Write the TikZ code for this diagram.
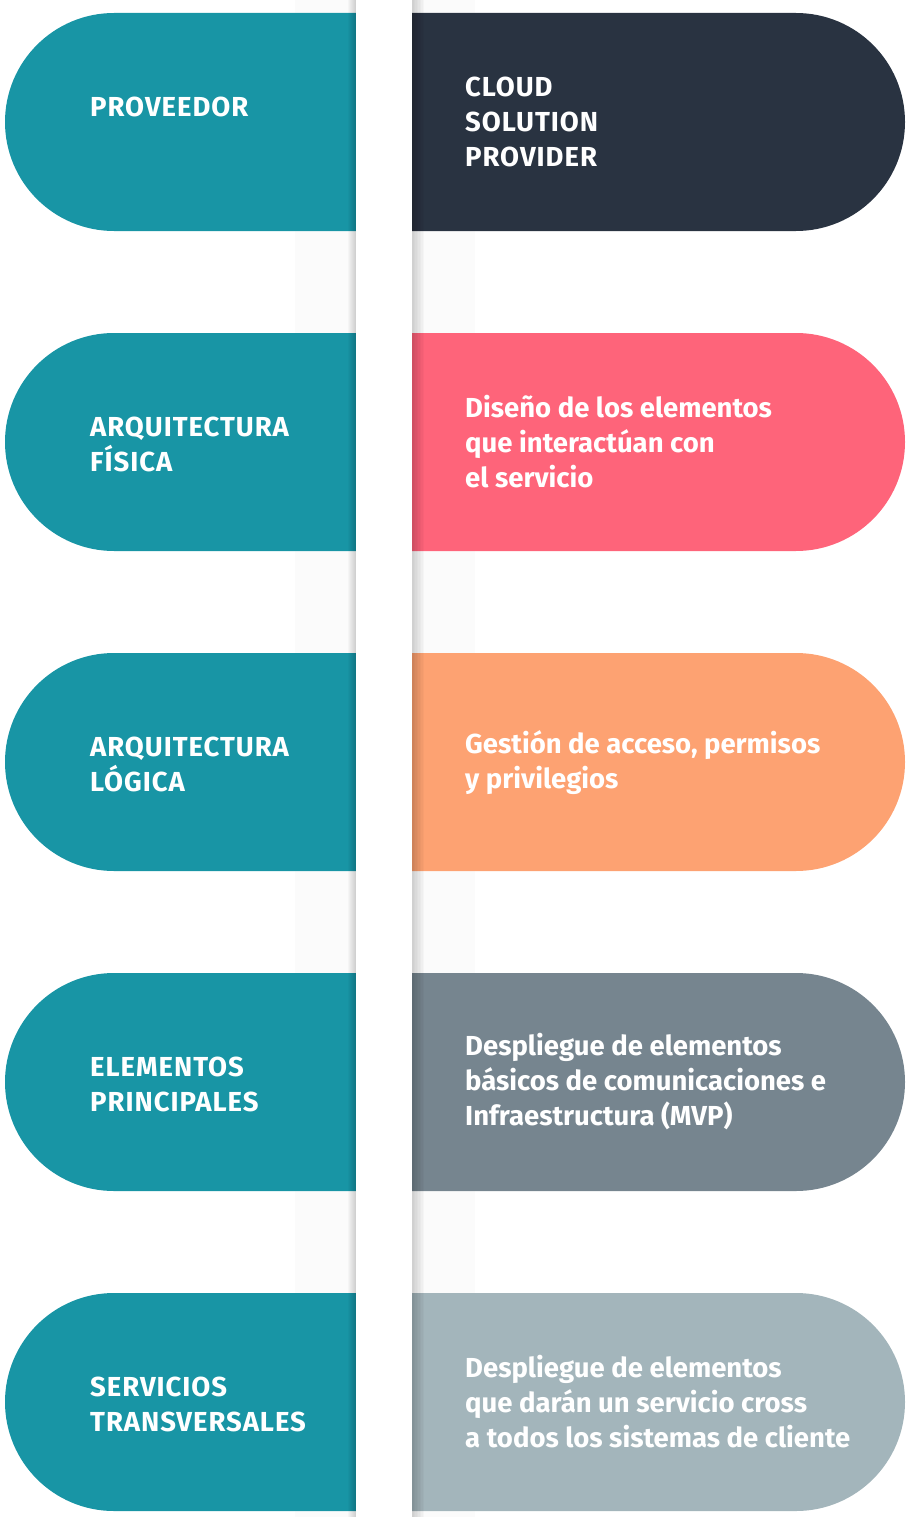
\documentclass[tikz,border=0pt]{standalone}
\usepackage{fontspec}
\setmainfont{Fira Sans}

\definecolor{pillteal}{HTML}{1895A5}
\definecolor{pilldark}{HTML}{293341}
\definecolor{pillpink}{HTML}{FE647A}
\definecolor{pillorange}{HTML}{FDA272}
\definecolor{pillgray}{HTML}{76858F}
\definecolor{pilllight}{HTML}{A3B5BB}

\tikzset{
  steptext/.style={anchor=west, inner sep=0pt, align=left, text=white,
    font=\bfseries\fontsize{27.5}{35}\selectfont},
  capstext/.style={steptext,
    font=\bfseries\fontsize{27.5}{35}\selectfont\addfontfeature{LetterSpace=3.5}},
}

\begin{document}
\begin{tikzpicture}[x=1pt,y=1pt]
    \useasboundingbox (0,0) rectangle (906,-1517);
    % faint bands beside the bar
    \fill[black,opacity=0.015] (295,0) rectangle (356,-1517);
    \fill[black,opacity=0.015] (412,0) rectangle (475,-1517);
    % pills
    \foreach \cy/\rc in {-122/pilldark,-442/pillpink,-762/pillorange,-1082/pillgray,-1402/pilllight}{
      \fill[pillteal] (356,\cy+109) -- (114,\cy+109) arc[start angle=90,end angle=270,radius=109] -- (356,\cy-109) -- cycle;
      \fill[\rc] (412,\cy+109) -- (796,\cy+109) arc[start angle=90,end angle=-90,radius=109] -- (412,\cy-109) -- cycle;
    }
    % shadow of the bar
    \foreach \i in {1,...,8}{
      \fill[black,opacity=0.025] (356-\i,0) rectangle (356,-1517);
      \fill[black,opacity=0.025] (412,0) rectangle (412+\i*1.5,-1517);
    }
    % bar
    \fill[white] (356,0) rectangle (412,-1517);
    % labels
    \node[capstext] (prov) at (90,-107) {PROVEEDOR};
    \node[capstext] (fis) at (90,-444) {ARQUITECTURA\\FÍSICA};
    \node[capstext] (log) at (90,-764) {ARQUITECTURA\\LÓGICA};
    \node[capstext] (elem) at (90,-1084) {ELEMENTOS\\PRINCIPALES};
    \node[capstext] (serv) at (90,-1404) {SERVICIOS\\TRANSVERSALES};
    % descriptions
    \node[capstext] (csp) at (465,-122) {CLOUD\\SOLUTION\\PROVIDER};
    \node[steptext] (dfis) at (465,-442) {Diseño de los elementos\\que interactúan con\\el servicio};
    \node[steptext] (dlog) at (465,-763) {Gestión de acceso, permisos\\y privilegios};
    \node[steptext] (delem) at (465,-1082) {Despliegue de elementos\\básicos de comunicaciones e\\Infraestructura (MVP)};
    \node[steptext] (dserv) at (465,-1402) {Despliegue de elementos\\que darán un servicio cross\\a todos los sistemas de cliente};
\end{tikzpicture}
\end{document}
